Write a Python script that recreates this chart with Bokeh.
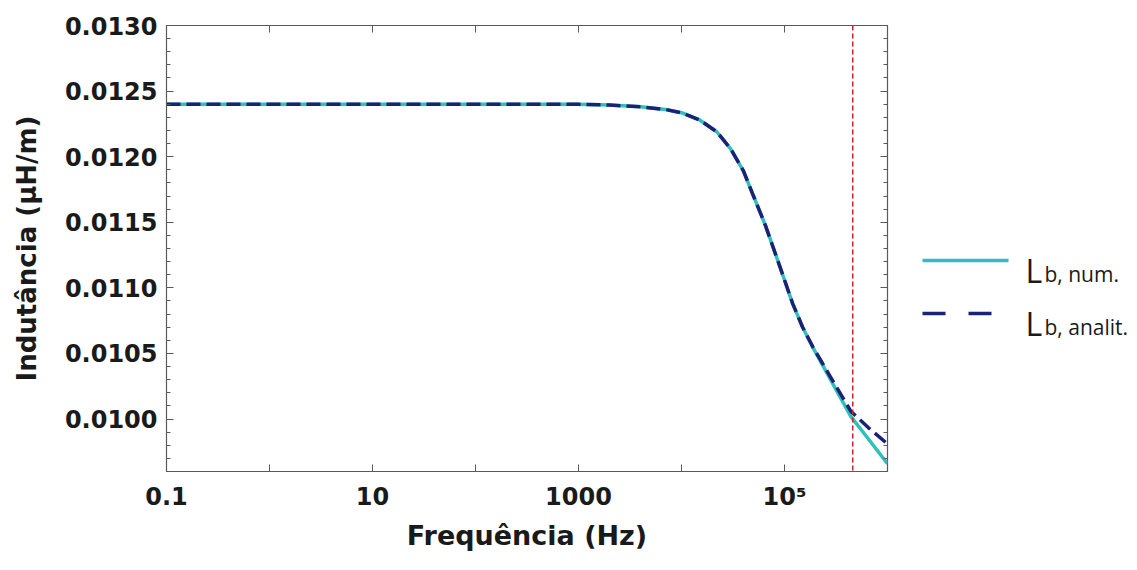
import numpy as np
from bokeh.plotting import figure
from bokeh.models import (Range1d, FixedTicker, LogAxis, LinearAxis,
                          NumeralTickFormatter, Span)
from bokeh.layouts import row
from bokeh.embed import file_html
from bokeh.resources import INLINE
from bokeh.core.properties import value

# ---------------- data ----------------
freq_hz = [0.1, 1, 10, 100, 1000, 2000, 4000, 7000, 1e4, 1.5e4, 2.2e4, 3e4, 4e4,
           5e4, 6.5e4, 8.5e4, 1e5, 1.2e5, 1.5e5, 1.9e5, 2.8e5, 4.4e5, 6.5e5, 1e6]
L_num = [0.012400, 0.012400, 0.012400, 0.012400, 0.012399, 0.012394, 0.012380,
         0.012360, 0.012335, 0.012280, 0.012190, 0.012060, 0.011890, 0.011700,
         0.011480, 0.011220, 0.011060, 0.010880, 0.010700, 0.010540, 0.010300,
         0.010020, 0.009850, 0.009660]
L_analit = [0.012400, 0.012400, 0.012400, 0.012400, 0.012399, 0.012394, 0.012380,
            0.012360, 0.012335, 0.012280, 0.012190, 0.012060, 0.011890, 0.011700,
            0.011480, 0.011220, 0.011060, 0.010880, 0.010700, 0.010545, 0.010320,
            0.010060, 0.009935, 0.009810]
cutoff_freq = 4.6e5

x_ticks = [0.1, 1, 10, 100, 1000, 1e4, 1e5, 1e6]
x_tick_labels = ["0.1", "", "10", "", "1000", "", "10\u2075", ""]
y_ticks = [0.0100, 0.0105, 0.0110, 0.0115, 0.0120, 0.0125, 0.0130]
y_minor_ticks = [0.0096, 0.0097, 0.0098, 0.0099, 0.0101, 0.0102, 0.0103, 0.0104,
                 0.0106, 0.0107, 0.0108, 0.0109, 0.0111, 0.0112, 0.0113, 0.0114,
                 0.0116, 0.0117, 0.0118, 0.0119, 0.0121, 0.0122, 0.0123, 0.0124,
                 0.0126, 0.0127, 0.0128, 0.0129]
x_limits = (0.1, 1e6)
y_limits = (0.0096, 0.0130)

legend_labels = [("L", "b, num."), ("L", "b, analit.")]

# ---------------- styles ----------------
C_NUM = "#2fbfbc"
C_ANA = "#1b2276"
C_RED = "#cc2229"
AX_COL = "#5a5a5a"
TICK_FONT = "DejaVu Sans"

MAIN_W, H = 907, 559
FRAME_TOP, FRAME_BOTTOM = 25, 471

p = figure(x_axis_type="log", x_range=Range1d(*x_limits), y_range=Range1d(*y_limits),
           width=MAIN_W, height=H, output_backend="svg", toolbar_location=None,
           min_border_left=166, min_border_top=FRAME_TOP, min_border_bottom=H - FRAME_BOTTOM,
           min_border_right=20)
p.grid.visible = False
p.outline_line_color = AX_COL
p.outline_line_width = 1.2
p.background_fill_color = "white"
p.border_fill_color = "white"

xa = p.xaxis[0]
xa.ticker = FixedTicker(ticks=x_ticks, minor_ticks=[])
xa.major_label_overrides = {t: s for t, s in zip(x_ticks, x_tick_labels)}
ya = p.yaxis[0]
ya.ticker = FixedTicker(ticks=y_ticks, minor_ticks=y_minor_ticks)
ya.formatter = NumeralTickFormatter(format="0.0000")

for ax in (xa, ya):
    ax.axis_line_color = AX_COL
    ax.major_tick_line_color = AX_COL
    ax.minor_tick_line_color = AX_COL
    ax.major_tick_in = 7
    ax.major_tick_out = 0
    ax.minor_tick_in = 4
    ax.minor_tick_out = 0
    ax.major_label_text_font = TICK_FONT
    ax.major_label_text_font_style = "bold"
    ax.major_label_text_font_size = "24px"
    ax.major_label_text_color = "#1a1a1a"
    ax.axis_label_text_font = TICK_FONT
    ax.axis_label_text_font_style = "bold"
    ax.axis_label_text_color = "#1a1a1a"

xa.axis_label = "Frequência (Hz)"
xa.axis_label_text_font_size = "27px"
xa.major_label_standoff = 11
xa.axis_label_standoff = 6
ya.axis_label = "Indutância (μH/m)"
ya.axis_label_text_font_size = "26px"
ya.major_label_standoff = 9
ya.axis_label_standoff = 20

# mirrored ticks on top and right (labels invisible)
top = LogAxis(ticker=FixedTicker(ticks=x_ticks, minor_ticks=[]),
              major_label_text_font_size="2px", major_label_text_color=None,
              major_label_standoff=0,
              axis_line_color=None, major_tick_line_color=AX_COL,
              major_tick_in=7, major_tick_out=0, minor_tick_line_color=None)
right = LinearAxis(ticker=FixedTicker(ticks=y_ticks, minor_ticks=y_minor_ticks),
                   major_label_text_font_size="2px", major_label_text_color=None,
                   major_label_standoff=0,
                   axis_line_color=None, major_tick_line_color=AX_COL,
                   minor_tick_line_color=AX_COL, major_tick_in=7, major_tick_out=0,
                   minor_tick_in=4, minor_tick_out=0)
p.add_layout(top, "above")
p.add_layout(right, "right")

p.line(freq_hz, L_num, line_color=C_NUM, line_width=3.5)
p.line(freq_hz, L_analit, line_color=C_ANA, line_width=3.5, line_dash="14 6")
p.add_layout(Span(location=cutoff_freq, dimension="height", line_color=C_RED,
                  line_width=1.5, line_dash="5 3"))

# ---------------- legend panel (frame is aligned with the main frame by the row) ----
LEG_W = 222
leg = figure(width=LEG_W, height=H,
             x_range=Range1d(MAIN_W, MAIN_W + LEG_W),
             y_range=Range1d(FRAME_BOTTOM, FRAME_TOP),
             output_backend="svg", toolbar_location=None, min_border=0,
             min_border_left=0, min_border_right=0, min_border_top=FRAME_TOP,
             min_border_bottom=H - FRAME_BOTTOM,
             x_axis_location=None, y_axis_location=None, title=None)
leg.grid.visible = False
leg.outline_line_color = None
leg.background_fill_color = "white"
leg.border_fill_color = "white"

row_y = [260, 313]
colors = [C_NUM, C_ANA]
dashes = ["solid", "23 23"]
for (main, sub), yy, c, d in zip(legend_labels, row_y, colors, dashes):
    leg.line([922, 1008], [yy, yy], line_color=c, line_width=3.5, line_dash=d)
    leg.text([1025], [yy + 10], text=[main], text_font=value("Open Sans"),
             text_font_size="32px", text_color="#1a1a1a", text_baseline="alphabetic")
    leg.text([1044], [yy + 13], text=[sub], text_font=value("Open Sans"),
             text_font_size="21px", text_color="#1a1a1a", text_baseline="alphabetic")

layout = row(p, leg)
open("out.html", "w").write(file_html(layout, INLINE))
